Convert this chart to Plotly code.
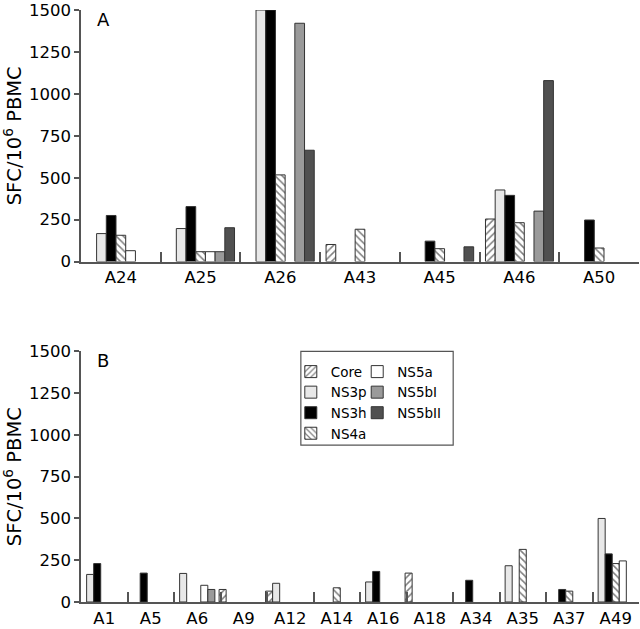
import plotly.graph_objects as go

# ---------------- data ----------------
series = ["Core", "NS3p", "NS3h", "NS4a", "NS5a", "NS5bI", "NS5bII"]

cats_a = ["A24", "A25", "A26", "A43", "A45", "A46", "A50"]
core_a   = [None, None, None, 102, None, 254, None]
ns3p_a   = [167, 197, 1500, None, None, 427, None]
ns3h_a   = [275, 328, 1500, None, 122, 395, 248]
ns4a_a   = [157, 59, 517, 193, 77, 232, 81]
ns5a_a   = [65, 59, None, None, None, None, None]
ns5bi_a  = [None, 59, 1421, None, None, 301, None]
ns5bii_a = [None, 202, 664, None, 88, 1079, None]

cats_b = ["A1", "A5", "A6", "A9", "A12", "A14", "A16", "A18", "A34", "A35", "A37", "A49"]
core_b   = [None, None, None, 75, 65, None, None, 173, None, None, None, None]
ns3p_b   = [165, None, 171, None, 112, None, 120, None, None, 217, None, 500]
ns3h_b   = [230, 173, None, None, None, None, 183, None, 130, None, 75, 288]
ns4a_b   = [None, None, None, None, None, 85, None, None, None, 315, 65, 230]
ns5a_b   = [None, None, 100, None, None, None, None, None, None, None, None, 246]
ns5bi_b  = [None, None, 75, None, None, None, None, None, None, None, None, None]
ns5bii_b = [None] * 12

y_ticks = [0, 250, 500, 750, 1000, 1250, 1500]

# ---------------- styles ----------------
FONT = "DejaVu Sans"
AXC = "#555555"
OUT = "#333333"
styles = {
    "Core":   dict(color="white", pattern=dict(shape="/", fgcolor="black", bgcolor="white", size=5, solidity=0.3)),
    "NS3p":   dict(color="#e8e8e8"),
    "NS3h":   dict(color="#000000"),
    "NS4a":   dict(color="white", pattern=dict(shape="\\", fgcolor="black", bgcolor="white", size=5, solidity=0.3)),
    "NS5a":   dict(color="#ffffff"),
    "NS5bI":  dict(color="#9a9a9a"),
    "NS5bII": dict(color="#505050"),
}

fig = go.Figure()

def add_panel(cats, vals, xa, ya, w, show):
    n = len(series)
    for i, (name, v) in enumerate(zip(series, vals)):
        st = styles[name]
        marker = dict(color=st["color"], line=dict(color=OUT, width=1))
        if "pattern" in st:
            marker["pattern"] = st["pattern"]
        fig.add_trace(go.Bar(
            x=cats, y=v, name=name, xaxis=xa, yaxis=ya,
            width=w, offset=-n * w / 2 + i * w, marker=marker,
            showlegend=show, legend="legend" if i < 4 else "legend2",
            legendgroup=name,
        ))

add_panel(cats_a, [core_a, ns3p_a, ns3h_a, ns4a_a, ns5a_a, ns5bi_a, ns5bii_a], "x", "y", 0.1217, True)
add_panel(cats_b, [core_b, ns3p_b, ns3h_b, ns4a_b, ns5a_b, ns5bi_b, ns5bii_b], "x2", "y2", 0.1516, False)

xcommon = dict(type="category", showline=True, linecolor=AXC, linewidth=1.5,
               ticks="inside", tickson="boundaries", ticklen=10, tickcolor=AXC, tickwidth=1.5,
               showgrid=False, zeroline=False, tickfont=dict(family=FONT, size=16.5, color="black"))
ycommon = dict(range=[0, 1500], tickvals=y_ticks, showline=True, linecolor=AXC, linewidth=1.5,
               ticks="outside", ticklen=5, tickcolor=AXC, tickwidth=1.5, showgrid=False, zeroline=False,
               tickfont=dict(family=FONT, size=16.5, color="black"),
               title=dict(text="SFC/10<sup>6</sup> PBMC", font=dict(family=FONT, size=19.5, color="black"), standoff=7))

fig.update_layout(
    width=640, height=629,
    margin=dict(l=81, r=1, t=7, b=22),
    paper_bgcolor="white", plot_bgcolor="white",
    barmode="overlay",
    showlegend=True,
    xaxis=dict(domain=[0, 1], anchor="y", range=[-0.5, len(cats_a) - 0.5], **xcommon),
    yaxis=dict(domain=[0.575, 1.0], anchor="x", **ycommon),
    xaxis2=dict(domain=[0, 1], anchor="y2", range=[-0.5, len(cats_b) - 0.5], **xcommon),
    yaxis2=dict(domain=[0.0, 0.4233], anchor="x2", **ycommon),
    legend=dict(x=0.376, y=0.415, xanchor="left", yanchor="top", bgcolor="rgba(0,0,0,0)",
                font=dict(family=FONT, size=13.5, color="black"), traceorder="normal"),
    legend2=dict(x=0.495, y=0.415, xanchor="left", yanchor="top", bgcolor="rgba(0,0,0,0)",
                 font=dict(family=FONT, size=13.5, color="black"), traceorder="normal"),
    shapes=[dict(type="rect", xref="paper", yref="paper", x0=0.394, x1=0.667, y0=0.265, y1=0.4233,
                 line=dict(color=AXC, width=1.2), fillcolor="rgba(0,0,0,0)")],
    annotations=[
        dict(text="A", xref="x domain", yref="y domain", x=0.025, y=1.012, xanchor="left", yanchor="top",
             showarrow=False, font=dict(family=FONT, size=18, color="black")),
        dict(text="B", xref="x2 domain", yref="y2 domain", x=0.025, y=1.012, xanchor="left", yanchor="top",
             showarrow=False, font=dict(family=FONT, size=18, color="black")),
    ],
)

fig.write_html("out.html", config={"displayModeBar": False},
               post_script="document.body.style.margin='0';document.body.style.overflow='hidden';")
